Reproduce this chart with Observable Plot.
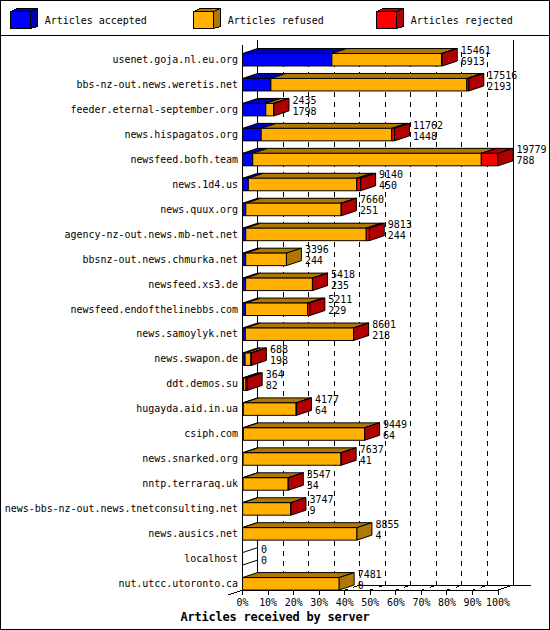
<!DOCTYPE html>
<html>
<head>
<meta charset="utf-8">
<script src="https://cdn.jsdelivr.net/npm/d3@7"></script>
<script src="https://cdn.jsdelivr.net/npm/@observablehq/plot@0.6"></script>
<style>
html,body{margin:0;padding:0;background:#fff}
#frame{position:absolute;left:0;top:0;width:548px;height:628px;border:1px solid #000;overflow:hidden;background:#fff}
#chart{position:absolute;left:-1px;top:35px}
#sep{position:absolute;left:0;right:0;top:34px;height:1px;background:#000}
svg text,.lg,#cap{font-family:"DejaVu Sans Mono",monospace;font-size:10px;letter-spacing:-0.02px;fill:#000;color:#000}
svg path,svg line{shape-rendering:crispEdges}
.lg{position:absolute;top:12px;line-height:15px;white-space:pre}
#cap{position:absolute;left:0;right:0;top:609px;text-align:center;font-weight:bold;font-size:12px;letter-spacing:-0.22px;line-height:14px}
.sw{position:absolute;top:7px;left:0}
</style>
</head>
<body>
<div id="frame">
  <div id="chart"></div>
  <div id="sep"></div>
  <div id="cap"></div>
</div>
<script>
const servers = ["usenet.goja.nl.eu.org","bbs-nz-out.news.weretis.net","feeder.eternal-september.org","news.hispagatos.org","newsfeed.bofh.team","news.1d4.us","news.quux.org","agency-nz-out.news.mb-net.net","bbsnz-out.news.chmurka.net","newsfeed.xs3.de","newsfeed.endofthelinebbs.com","news.samoylyk.net","news.swapon.de","ddt.demos.su","hugayda.aid.in.ua","csiph.com","news.snarked.org","nntp.terraraq.uk","news-bbs-nz-out.news.tnetconsulting.net","news.ausics.net","localhost","nut.utcc.utoronto.ca"];
const totals = [15461,17516,2435,11762,19779,9140,7660,9813,3396,5418,5211,8601,688,364,4177,9449,7637,3547,3747,8855,0,7481];
const accepted = [6913,2193,1798,1448,788,450,251,244,244,235,229,218,198,82,64,64,41,34,9,4,0,0];
const rejected = [60,160,40,220,1300,300,30,240,0,10,170,10,40,100,30,10,10,10,10,0,0,0];
const seriesNames = ["Articles accepted","Articles refused","Articles rejected"];
const frontColors = ["#0000ff","#ffb000","#ff0000"];
const darkColors = ["#0000b0","#b07800","#b00000"];
const xTicks = [0,10,20,30,40,50,60,70,80,90,100];
const gridTicks = [10,20,30,40,50,60,70,80,90,100];

const maxTotal = d3.max(totals);
const pct = v => v / maxTotal * 100;
const DX = 15 / 2.56, DY = 5 / 25, H = 0.25; // depth of the bars, in scale units

const polys = [];
function poly(color, pts){ const id = polys.length ? polys[polys.length-1].id + 1 : 0;
  [...pts, pts[0]].forEach(p => polys.push({id, color, px:p[0], py:p[1]})); }

servers.forEach((s,i) => {
  const refused = totals[i] - accepted[i] - rejected[i];
  const vals = [accepted[i], refused, rejected[i]];
  let a = 0;
  vals.forEach((v,k) => {
    if (v <= 0) return;
    const b = a + pct(v);
    poly(darkColors[k], [[a,i-H],[a+DX,i-H-DY],[b+DX,i-H-DY],[b,i-H]]);
    poly(frontColors[k], [[a,i-H],[b,i-H],[b,i+H],[a,i+H]]);
    a = b;
  });
  const last = rejected[i] > 0 ? darkColors[2] : totals[i] > 0 ? darkColors[1] : "none";
  poly(last, [[a,i-H],[a+DX,i-H-DY],[a+DX,i+H-DY],[a,i+H]]);
});

const rows = servers.map((s,i)=>i);
const floorY = 21.25, backY = 21.05;

const plot = Plot.plot({
  width: 550, height: 574,
  marginLeft: 242.5, marginRight: 51.5, marginTop: 10.8, marginBottom: 19.45,
  x: {domain:[0,100]},
  y: {domain:[floorY,-0.5]},
  color: {type:"identity"},
  style: {background:"white", color:"black"},
  marks: [
    Plot.ruleX(gridTicks.slice(0,-1), {x:d=>d, y1:-0.29, y2:backY, dx:15, stroke:"black", strokeDasharray:"5 5"}),
    Plot.ruleX([0,100], {x:d=>d, y1:-0.77, y2:backY, dx:15, stroke:"black"}),
    Plot.ruleY([backY], {x1:45, x2:112.9, stroke:"black"}),
    Plot.ruleY([floorY], {x1:0, x2:100, stroke:"black"}),
    Plot.link(gridTicks.slice(0,-1), {x1:d=>d, y1:floorY, x2:d=>d+DX, y2:backY, stroke:"black", strokeDasharray:"3 6 4"}),
    Plot.link([100], {x1:d=>d, y1:floorY, x2:d=>d+DX, y2:backY, stroke:"black"}),
    Plot.link([0], {x1:d=>d-DX, y1:floorY+DY, x2:d=>d, y2:floorY, stroke:"black"}),
    Plot.line(polys, {x:"px", y:"py", z:"id", fill:"color", stroke:"black", strokeWidth:1, curve:"linear", strokeLinejoin:"miter"}),
    Plot.ruleX([0], {x:d=>d, y1:-0.57, y2:floorY, stroke:"black"}),
    Plot.text(rows, {x:i=>pct(totals[i]), y:i=>i, text:i=>String(totals[i]), dx:18.5, dy:-9.3, textAnchor:"start"}),
    Plot.text(rows, {x:i=>pct(totals[i]), y:i=>i, text:i=>String(accepted[i]), dx:18.5, dy:1.7, textAnchor:"start"}),
    Plot.axisY({ticks:rows, tickFormat:i=>servers[i], tickSize:0, tickPadding:4.5, label:null}),
    Plot.axisX({ticks:xTicks, tickFormat:d=>d+"%", tickSize:5, tickPadding:4, label:null})
  ]
});
document.getElementById("chart").appendChild(plot);
document.getElementById("cap").textContent = "Articles received by server";

// legend, placed over the band above the chart
const frame = document.getElementById("frame");
const swatchX = [9, 192, 375], textX = [43.7, 226.7, 409.7];
seriesNames.forEach((name,k) => {
  const ns = "http://www.w3.org/2000/svg";
  const sv = document.createElementNS(ns,"svg");
  sv.setAttribute("class","sw"); sv.setAttribute("width",30); sv.setAttribute("height",22);
  sv.style.left = swatchX[k]+"px";
  const add = (pts,fill) => { const p = document.createElementNS(ns,"polygon");
    p.setAttribute("points",pts); p.setAttribute("fill",fill); p.setAttribute("stroke","#000"); p.setAttribute("shape-rendering","crispEdges"); sv.appendChild(p); };
  add("0.5,3.5 7.5,0.5 27.5,0.5 20.5,3.5", darkColors[k]);
  add("20.5,3.5 27.5,0.5 27.5,18.5 20.5,20.5", darkColors[k]);
  add("0.5,3.5 20.5,3.5 20.5,20.5 0.5,20.5", frontColors[k]);
  frame.appendChild(sv);
  const t = document.createElement("div");
  t.className = "lg"; t.style.left = textX[k]+"px"; t.textContent = name;
  frame.appendChild(t);
});
</script>
</body>
</html>
